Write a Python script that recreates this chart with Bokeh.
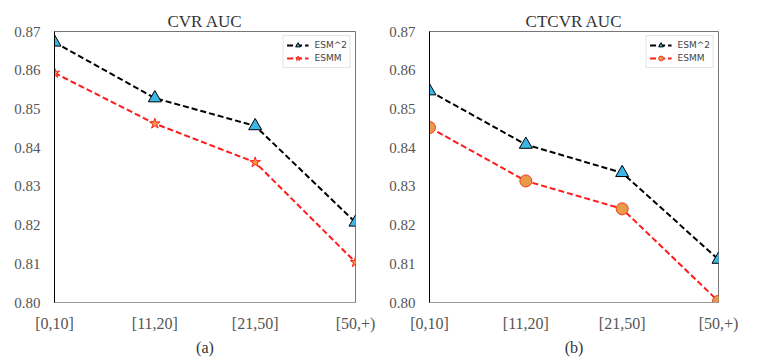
from bokeh.plotting import figure
from bokeh.layouts import row
from bokeh.models import (Range1d, FixedTicker, Legend, LegendItem,
                          CustomJSTickFormatter, NumeralTickFormatter)
from bokeh.embed import file_html
from bokeh.resources import INLINE

categories = ["[0,10]", "[11,20]", "[21,50]", "[50,+)"]
cvr_esm2 = [0.8672, 0.8528, 0.8456, 0.8207]
cvr_esmm = [0.8593, 0.8462, 0.8362, 0.8104]
ctcvr_esm2 = [0.8546, 0.8408, 0.8335, 0.8111]
ctcvr_esmm = [0.8452, 0.8314, 0.8242, 0.8003]
y_ticks = [0.80, 0.81, 0.82, 0.83, 0.84, 0.85, 0.86, 0.87]

SERIF = "Liberation Serif"
xs = list(range(len(categories)))


def make_fig(title, xlabel, esm2, esmm, esmm_marker, width, bl, br):
    p = figure(width=width, height=358, output_backend="svg", toolbar_location=None,
               x_range=Range1d(0, len(categories) - 1), y_range=Range1d(0.80, 0.87),
               min_border_left=bl, min_border_right=br, min_border_top=31, min_border_bottom=55)
    p.title.text = title
    p.title.align = "center"
    p.title.text_font = SERIF
    p.title.text_font_size = "17px"
    p.title.text_font_style = "normal"
    p.title.text_color = "#333333"
    p.title.standoff = 2
    p.grid.visible = False
    p.outline_line_color = "#777777"
    p.outline_line_width = 1

    p.xaxis.ticker = FixedTicker(ticks=xs)
    p.xaxis.formatter = CustomJSTickFormatter(args=dict(cats=categories),
                                              code="return cats[Math.round(tick)]")
    p.yaxis.ticker = FixedTicker(ticks=y_ticks)
    p.yaxis.formatter = NumeralTickFormatter(format="0.00")
    p.xaxis.major_tick_line_color = None
    p.yaxis.major_tick_line_color = None
    p.xaxis.minor_tick_line_color = None
    p.yaxis.minor_tick_line_color = None
    p.xaxis.major_label_text_font = SERIF
    p.yaxis.major_label_text_font = SERIF
    p.xaxis.major_label_text_color = "#555555"
    p.yaxis.major_label_text_color = "#555555"
    p.xaxis.major_label_standoff = 6
    p.yaxis.major_label_standoff = 8
    p.xaxis.major_label_text_font_size = "16px"
    p.yaxis.major_label_text_font_size = "15px"
    p.yaxis.axis_line_color = "black"
    p.xaxis.axis_line_color = "#999999"
    p.xaxis.axis_label = xlabel
    p.xaxis.axis_label_text_font = SERIF
    p.xaxis.axis_label_text_font_style = "normal"
    p.xaxis.axis_label_text_font_size = "16px"
    p.xaxis.axis_label_text_color = "#333333"
    p.xaxis.axis_label_standoff = 4

    l1 = p.line(xs, esm2, line_color="black", line_width=2, line_dash="6 3")
    m1 = p.scatter(xs, esm2, marker="triangle", size=13, fill_color="#3BB6E6",
                   line_color="black", line_width=1)
    l2 = p.line(xs, esmm, line_color="#FF1A1A", line_width=2, line_dash="6 3")
    if esmm_marker == "star":
        m2 = p.scatter(xs, esmm, marker="star", size=11, fill_color="#F29A3A",
                       line_color="#FF2020", line_width=1)
    else:
        m2 = p.scatter(xs, esmm, marker="circle", size=12, fill_color="#E89A48",
                       line_color="#F03A20", line_width=1)

    legend = Legend(items=[LegendItem(label="ESM^2", renderers=[l1, m1]),
                           LegendItem(label="ESMM", renderers=[l2, m2])],
                    location="top_right")
    legend.label_text_font = "DejaVu Sans"
    legend.label_text_font_size = "9px"
    legend.label_height = 12
    legend.glyph_height = 12
    legend.glyph_width = 22
    legend.spacing = 1
    legend.padding = 3
    legend.margin = 4
    legend.border_line_color = "#cccccc"
    legend.label_standoff = 6
    p.add_layout(legend)
    return p


p1 = make_fig("CVR AUC", "(a)", cvr_esm2, cvr_esmm, "star", 386, 54, 31)
p2 = make_fig("CTCVR AUC", "(b)", ctcvr_esm2, ctcvr_esmm, "circle", 370, 30, 38)

layout = row(p1, p2, spacing=0)
open("out.html", "w").write(file_html(layout, INLINE))
